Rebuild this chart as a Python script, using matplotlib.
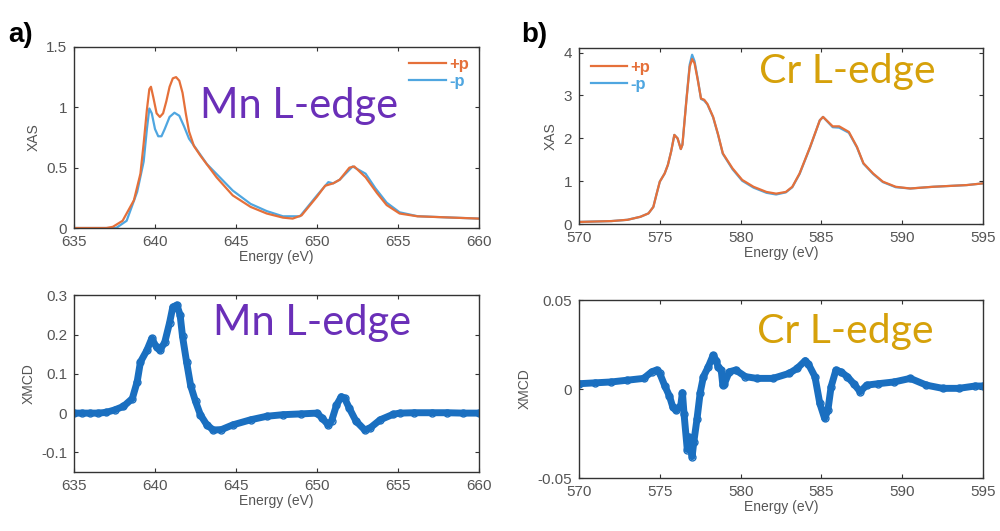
import matplotlib
matplotlib.use("Agg")
import matplotlib.pyplot as plt

# Mn L-edge XAS (+p / -p)
mn_e_pos = [635, 636, 637, 637.4, 638.0, 638.7, 639.1, 639.3, 639.5, 639.65, 639.75, 639.9,
            640.1, 640.3, 640.5, 640.7, 640.9, 641.1, 641.3, 641.5, 641.7, 641.9, 642.1, 642.4,
            642.8, 643.3, 643.8, 644.8, 645.9, 646.9, 647.9, 648.5, 649.05,
            650.0, 650.5, 651.0, 651.4, 652.0, 652.3, 653.0, 653.7, 654.3, 655.1, 656.2, 658, 660]
mn_xas_pos = [0, 0, 0, 0.01, 0.06, 0.23, 0.45, 0.7, 0.98, 1.15, 1.17, 1.08,
              0.95, 0.92, 0.95, 1.05, 1.17, 1.24, 1.25, 1.22, 1.12, 0.95, 0.8, 0.68,
              0.6, 0.51, 0.42, 0.27, 0.175, 0.12, 0.086, 0.078, 0.105,
              0.26, 0.35, 0.37, 0.40, 0.50, 0.51, 0.42, 0.29, 0.19, 0.12, 0.097, 0.088, 0.078]
mn_e_neg = [635, 636, 637, 637.6, 638.25, 638.9, 639.3, 639.5, 639.65, 639.8, 640.0, 640.2,
            640.4, 640.6, 640.9, 641.2, 641.5, 641.8, 642.1, 642.6, 643.2, 644.0, 644.8,
            645.9, 646.9, 647.9, 648.95, 650.0, 650.7, 651.0, 651.4, 652.2, 653.0, 653.6,
            654.3, 655.1, 656.2, 658, 660]
mn_xas_neg = [0, 0, 0, 0.0, 0.06, 0.3, 0.55, 0.82, 0.99, 0.95, 0.82, 0.76,
              0.76, 0.82, 0.92, 0.955, 0.93, 0.84, 0.74, 0.645, 0.53, 0.42, 0.31,
              0.2, 0.14, 0.097, 0.097, 0.27, 0.38, 0.37, 0.40, 0.51, 0.45, 0.33,
              0.21, 0.13, 0.098, 0.088, 0.078]

# Mn L-edge XMCD
mn_e_xmcd = [635, 635.5, 636, 636.5, 637, 637.5, 638.05, 638.6, 638.9, 639.1, 639.5, 639.8,
             640.1, 640.3, 640.6, 640.9, 641.1, 641.35, 641.55, 641.7, 641.95, 642.2, 642.5,
             642.8, 643.2, 643.6, 644.1, 644.8, 645.9, 646.9, 647.9, 649.0, 650.0, 650.3,
             650.7, 650.9, 651.2, 651.5, 651.7, 652.0, 652.4, 652.95, 653.3, 653.9, 654.7,
             655.1, 656, 657.1, 658, 659, 660]
mn_xmcd = [0, 0, 0, 0, 0.002, 0.008, 0.017, 0.037, 0.08, 0.13, 0.16, 0.19,
           0.167, 0.16, 0.18, 0.23, 0.27, 0.275, 0.25, 0.195, 0.13, 0.07, 0.03,
           -0.004, -0.03, -0.043, -0.042, -0.03, -0.017, -0.008, -0.004, -0.002, 0, -0.012,
           -0.03, -0.02, 0.02, 0.042, 0.038, 0.012, -0.02, -0.043, -0.037, -0.017, -0.003,
           0, 0.001, 0.001, 0.001, 0, 0]

# Cr L-edge XAS (+p / -p overlap almost everywhere)
cr_e = [570, 572, 573, 573.8, 574.3, 574.6, 574.8, 575.0, 575.3, 575.5, 575.7, 575.9, 576.1,
        576.3, 576.4, 576.65, 576.85, 577.0, 577.15, 577.35, 577.55, 577.75, 577.95, 578.3,
        578.6, 578.9, 579.5, 580.1, 580.8, 581.6, 582.2, 582.8, 583.2, 583.65, 584.3, 584.9,
        585.1, 585.4, 585.7, 586.1, 586.7, 587.2, 587.6, 588.2, 588.8, 589.6, 590.5, 591.9,
        594, 595]
cr_xas_pos = [0.05, 0.07, 0.1, 0.17, 0.25, 0.4, 0.7, 0.99, 1.18, 1.38, 1.69, 2.08, 2.0,
              1.75, 1.85, 2.9, 3.67, 3.85, 3.75, 3.36, 2.93, 2.9, 2.8, 2.5,
              2.1, 1.65, 1.3, 1.03, 0.87, 0.75, 0.71, 0.75, 0.87, 1.18, 1.8, 2.42,
              2.5, 2.39, 2.28, 2.28, 2.15, 1.8, 1.42, 1.18, 0.99, 0.87, 0.83, 0.87,
              0.91, 0.95]
cr_xas_neg = [0.05, 0.07, 0.1, 0.17, 0.25, 0.4, 0.7, 0.99, 1.18, 1.38, 1.69, 2.08, 2.0,
              1.75, 1.85, 2.92, 3.72, 3.95, 3.8, 3.38, 2.92, 2.88, 2.79, 2.49,
              2.09, 1.64, 1.28, 1.01, 0.85, 0.73, 0.69, 0.74, 0.86, 1.17, 1.79, 2.42,
              2.5, 2.38, 2.26, 2.25, 2.13, 1.79, 1.41, 1.17, 0.98, 0.86, 0.83, 0.87,
              0.91, 0.95]

# Cr L-edge XMCD
cr_e_xmcd = [570, 571, 572, 573, 574, 574.5, 574.8, 575.0, 575.3, 575.6, 575.8, 576.0,
             576.3, 576.4, 576.5, 576.7, 576.8, 577.0, 577.1, 577.3, 577.5, 577.7, 578.0,
             578.3, 578.5, 578.6, 578.8, 578.9, 579.0, 579.3, 579.7, 580.3, 581, 582, 583,
             583.5, 584.0, 584.2, 584.6, 584.9, 585.2, 585.4, 585.6, 585.9, 586.2, 586.6,
             587.0, 587.4, 587.8, 588.5, 589.5, 590.5, 591.5, 592.5, 593.5, 594.5, 595]
cr_xmcd = [0.003, 0.0035, 0.004, 0.005, 0.006, 0.0097, 0.0107, 0.0088, 0.002, -0.004, -0.01, -0.012,
           -0.009, -0.002, -0.014, -0.034, -0.027, -0.038, -0.03, -0.017, -0.002, 0.007, 0.0125,
           0.019, 0.016, 0.0125, 0.0107, 0.0022, 0.003, 0.0097, 0.0107, 0.007, 0.006, 0.006, 0.0088,
           0.0116, 0.016, 0.014, 0.007, -0.008, -0.0165, -0.012, 0.0013, 0.0107, 0.0097, 0.007,
           0.003, -0.0015, 0.0022, 0.003, 0.004, 0.006, 0.0022, 0.0004, 0.0004, 0.0017, 0.0017]

ORANGE = "#e5703a"
LIGHT_BLUE = "#4fa6e0"
XMCD_BLUE = "#1a6fc0"
MN_COLOR = "#6a2fb8"
CR_COLOR = "#d6a10a"
TICK_GRAY = "#555555"

plt.rcParams["font.family"] = ["Liberation Sans", "DejaVu Sans"]

fig = plt.figure(figsize=(10, 5.31), dpi=100)
ax_mn = fig.add_axes([0.074, 0.5706, 0.405, 0.341])
ax_cr = fig.add_axes([0.579, 0.578, 0.404, 0.331])
ax_mn_d = fig.add_axes([0.074, 0.111, 0.405, 0.333])
ax_cr_d = fig.add_axes([0.579, 0.0998, 0.404, 0.335])


def style(ax, ylabel):
    ax.tick_params(direction="in", top=True, right=True, length=3, width=0.8,
                   labelsize=11, labelcolor=TICK_GRAY, color="#333333")
    ax.tick_params(axis="x", pad=5)
    ax.tick_params(axis="y", pad=5)
    for sp in ax.spines.values():
        sp.set_color("#333333")
        sp.set_linewidth(1.0)
    ax.set_xlabel("Energy (eV)", fontsize=10, color=TICK_GRAY, labelpad=1)
    ax.set_ylabel(ylabel, fontsize=10, color=TICK_GRAY, labelpad=4)


# Mn XAS
ax_mn.plot(mn_e_neg, mn_xas_neg, color=LIGHT_BLUE, lw=1.6, label="-p")
ax_mn.plot(mn_e_pos, mn_xas_pos, color=ORANGE, lw=1.6, label="+p")
ax_mn.set_xlim(635, 660)
ax_mn.set_ylim(0, 1.5)
ax_mn.set_xticks([635, 640, 645, 650, 655, 660])
ax_mn.set_yticks([0, 0.5, 1, 1.5])
ax_mn.set_yticklabels(["0", "0.5", "1", "1.5"])
style(ax_mn, "XAS")
h, l = ax_mn.get_legend_handles_labels()
ax_mn.legend(h[::-1], l[::-1], loc="upper right", frameon=False, labelcolor="linecolor",
             prop={"size": 12, "weight": "bold"}, handlelength=2.2, handletextpad=0.2,
             borderaxespad=0.2, labelspacing=0.1)
ax_mn.text(0.311, 0.608, "Mn L-edge", transform=ax_mn.transAxes, va="baseline",
           fontsize=30, color=MN_COLOR, family="Lato")

# Cr XAS
ax_cr.plot(cr_e, cr_xas_neg, color=LIGHT_BLUE, lw=1.6, label="-p")
ax_cr.plot(cr_e, cr_xas_pos, color=ORANGE, lw=1.6, label="+p")
ax_cr.set_xlim(570, 595)
ax_cr.set_ylim(0, 4.1)
ax_cr.set_xticks([570, 575, 580, 585, 590, 595])
ax_cr.set_yticks([0, 1, 2, 3, 4])
style(ax_cr, "XAS")
h, l = ax_cr.get_legend_handles_labels()
ax_cr.legend(h[::-1], l[::-1], loc="upper left", frameon=False, labelcolor="linecolor",
             prop={"size": 12, "weight": "bold"}, handlelength=2.2, handletextpad=0.2,
             borderaxespad=0.3, labelspacing=0.1)
ax_cr.text(0.446, 0.80, "Cr L-edge", transform=ax_cr.transAxes, va="baseline",
           fontsize=29.5, color=CR_COLOR, family="Lato")

# Mn XMCD
ax_mn_d.plot(mn_e_xmcd, mn_xmcd, color=XMCD_BLUE, lw=5, solid_capstyle="round")
ax_mn_d.plot(mn_e_xmcd, mn_xmcd, "o", color=XMCD_BLUE, ms=5, mfc="none", mew=1)
ax_mn_d.set_xlim(635, 660)
ax_mn_d.set_ylim(-0.15, 0.3)
ax_mn_d.set_xticks([635, 640, 645, 650, 655, 660])
ax_mn_d.set_yticks([-0.1, 0, 0.1, 0.2, 0.3])
ax_mn_d.set_yticklabels(["-0.1", "0", "0.1", "0.2", "0.3"])
style(ax_mn_d, "XMCD")
ax_mn_d.text(0.343, 0.774, "Mn L-edge", transform=ax_mn_d.transAxes, va="baseline",
             fontsize=30, color=MN_COLOR, family="Lato")

# Cr XMCD
ax_cr_d.plot(cr_e_xmcd, cr_xmcd, color=XMCD_BLUE, lw=5, solid_capstyle="round")
ax_cr_d.plot(cr_e_xmcd, cr_xmcd, "o", color=XMCD_BLUE, ms=5, mfc="none", mew=1)
ax_cr_d.set_xlim(570, 595)
ax_cr_d.set_ylim(-0.05, 0.05)
ax_cr_d.set_xticks([570, 575, 580, 585, 590, 595])
ax_cr_d.set_yticks([-0.05, 0, 0.05])
ax_cr_d.set_yticklabels(["-0.05", "0", "0.05"])
style(ax_cr_d, "XMCD")
ax_cr_d.text(0.44, 0.758, "Cr L-edge", transform=ax_cr_d.transAxes, va="baseline",
             fontsize=29.5, color=CR_COLOR, family="Lato")

fig.text(0.008, 0.92, "a)", fontsize=20, fontweight="bold", color="black")
fig.text(0.521, 0.92, "b)", fontsize=20, fontweight="bold", color="black")

fig.savefig("out.png", dpi=100)
